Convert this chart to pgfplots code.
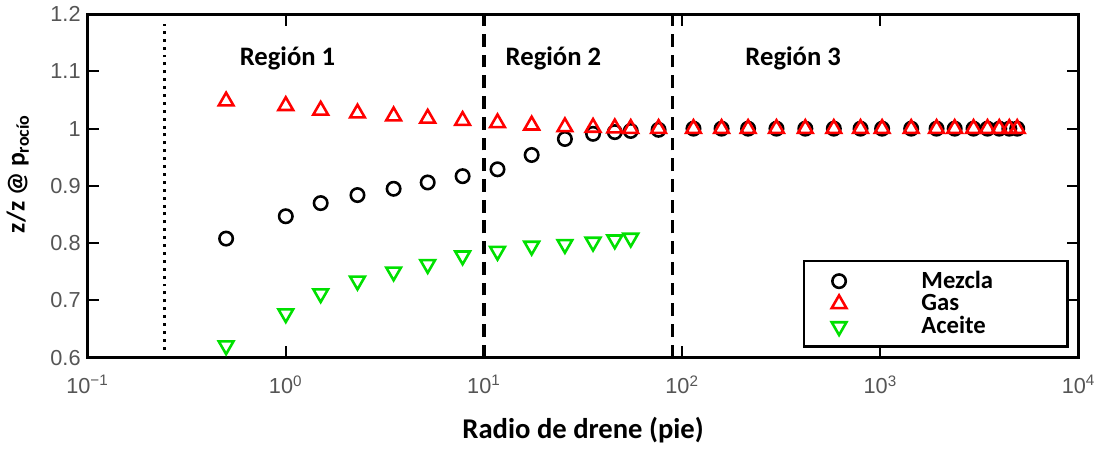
\documentclass[border=0pt]{standalone}
\usepackage{pgfplots}
\pgfplotsset{compat=1.18}
\usepackage{fontspec}
\setmainfont{Liberation Sans}
\newfontfamily\calib{Carlito}
\definecolor{tickgray}{HTML}{555555}
\definecolor{mred}{HTML}{FF0000}
\definecolor{mgreen}{HTML}{00E000}
\begin{document}
\begin{tikzpicture}
\begin{axis}[
  scale only axis, width=502pt, height=174pt,
  xmode=log, xmin=0.1, xmax=10000, ymin=0.6, ymax=1.2,
  log basis x=10,
  xtick={0.1,1,10,100,1000,10000},
  xticklabels={10\textsuperscript{−1},10\textsuperscript{0},10\textsuperscript{1},10\textsuperscript{2},10\textsuperscript{3},10\textsuperscript{4}},
  ytick={0.6,0.7,0.8,0.9,1,1.1,1.2},
  yticklabels={0.6,0.7,0.8,0.9,1,1.1,1.2},
  tick label style={font=\fontsize{11}{13}\selectfont, text=tickgray},
  xticklabel style={yshift=-5.5pt},
  tick align=inside, major tick length=6pt, minor tick length=3pt,
  every tick/.style={black, line width=1pt},
  axis line style={line width=1.5pt},
  xlabel={\calib\bfseries Radio de drene (pie)},
  ylabel={\calib\bfseries z/z @ p\textsubscript{rocío}},
  xlabel style={font=\fontsize{14.5}{16}\selectfont, yshift=-5pt},
  ylabel style={font=\fontsize{13}{15}\selectfont, at={(ticklabel cs:0.535)}, yshift=4pt},
  legend style={at={(0.99,0.029)}, anchor=south east, draw=black, line width=1.2pt,
    font=\calib\bfseries\fontsize{12.5}{11}\selectfont, row sep=-2.5pt,
    /tikz/every odd column/.append style={column sep=36pt}, inner xsep=14pt, inner ysep=3pt},
  legend cell align=left,
  clip=false,
]
% vertical region lines
\addplot[black, line width=1.5pt, dash pattern=on 1.5pt off 2.5pt, forget plot] coordinates {(0.245,0.614) (0.245,1.183)};
\addplot[black, line width=1.6pt, dash pattern=on 6.5pt off 4pt, forget plot] coordinates {(10,0.6) (10,1.2)};
\addplot[black, line width=1.6pt, dash pattern=on 6.5pt off 4pt, forget plot] coordinates {(89,0.6) (89,1.2)};
% Mezcla
\addplot[only marks, mark=o, mark size=3.4pt, mark options={line width=1.3pt, draw=black}] coordinates {
(0.5,0.808) (1,0.847) (1.5,0.870) (2.3,0.884) (3.5,0.895) (5.2,0.906) (7.8,0.917)
(11.7,0.929) (17.4,0.954) (25.6,0.982) (35.5,0.991) (45.7,0.994) (55,0.996)
(76,0.998) (114,1.0) (158,1.0) (215,1.0) (299,1.0) (418,1.0) (582,1.0) (794,1.0)
(1020,1.0) (1430,1.0) (1920,1.0) (2370,1.0) (2950,1.0) (3470,1.0) (3980,1.0) (4470,1.0) (4900,1.0)};
\addlegendentry{\makebox[58pt][l]{Mezcla}}
% Gas
\addplot[only marks, mark=triangle, mark size=4.3pt, mark options={line width=1.3pt, draw=mred}] coordinates {
(0.5,1.048) (1,1.040) (1.5,1.032) (2.3,1.027) (3.5,1.022) (5.2,1.018) (7.8,1.014)
(11.7,1.010) (17.4,1.006) (25.6,1.003) (35.5,1.002) (45.7,1.001) (55,1.0)
(76,1.0) (114,1.0) (158,1.0) (215,1.0) (299,1.0) (418,1.0) (582,1.0) (794,1.0)
(1020,1.0) (1430,1.0) (1920,1.0) (2370,1.0) (2950,1.0) (3470,1.0) (3980,1.0) (4470,1.0) (4900,1.0)};
\addlegendentry{Gas}
% Aceite
\addplot[only marks, mark=triangle, mark size=4.3pt, mark options={line width=1.3pt, draw=mgreen, rotate=180}] coordinates {
(0.5,0.621) (1,0.677) (1.5,0.712) (2.3,0.734) (3.5,0.750) (5.2,0.763) (7.8,0.778)
(11.7,0.786) (17.4,0.795) (25.6,0.798) (35.5,0.802) (45.7,0.806) (55,0.809)};
\addlegendentry{Aceite}
% region labels
\node[font=\calib\bfseries\fontsize{13.5}{15}\selectfont] at (axis cs:1.02,1.122) {Región 1};
\node[font=\calib\bfseries\fontsize{13.5}{15}\selectfont] at (axis cs:22.4,1.122) {Región 2};
\node[font=\calib\bfseries\fontsize{13.5}{15}\selectfont] at (axis cs:363,1.122) {Región 3};
\end{axis}
\end{tikzpicture}
\end{document}
